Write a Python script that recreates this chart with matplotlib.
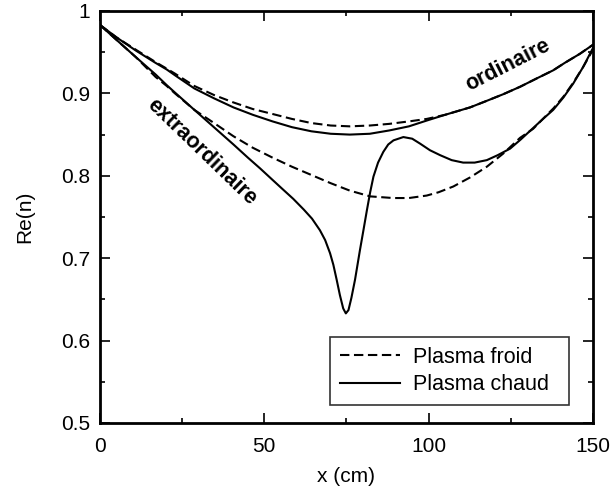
import numpy as np
import matplotlib
matplotlib.use("Agg")
from matplotlib import pyplot as plt

# %% Data --------------------------------------------------------------------------------------------------------------
# mode ordinaire, plasma froid (dashed) / plasma chaud (solid)
x_ord_froid = [0, 5, 10.9, 16.9, 20.3, 22.8, 28.7, 34.7, 40.6, 46.5, 52.5, 58.4, 64.3, 70.2, 76, 82.1, 88, 94, 99.4,
               105, 112.6, 117.7, 122.7, 127.8, 132.8, 137.9, 141.4, 146, 150]
y_ord_froid = [0.983, 0.968, 0.953, 0.938, 0.930, 0.924, 0.909, 0.898, 0.889, 0.881, 0.875, 0.869, 0.864, 0.861,
               0.860, 0.861, 0.863, 0.866, 0.869, 0.874, 0.883, 0.891, 0.899, 0.908, 0.918, 0.928, 0.937, 0.948,
               0.959]

x_ord_chaud = [0, 5, 10.9, 16.9, 20.3, 22.8, 28.7, 34.7, 40.6, 46.5, 52.5, 58.4, 64.3, 70.2, 76, 82.1, 88, 94, 99.4,
               105, 112.6, 117.7, 122.7, 127.8, 132.8, 137.9, 141.4, 146, 150]
y_ord_chaud = [0.983, 0.968, 0.952, 0.937, 0.929, 0.922, 0.906, 0.894, 0.883, 0.874, 0.866, 0.859, 0.854, 0.851,
               0.850, 0.851, 0.855, 0.860, 0.867, 0.874, 0.883, 0.891, 0.899, 0.908, 0.918, 0.928, 0.937, 0.948,
               0.959]

# mode extraordinaire
x_ext_froid = [0, 5, 10.9, 16.9, 20.3, 22.8, 28.7, 34.7, 40.6, 46.5, 52.5, 58.4, 64.3, 70.2, 76, 82.2, 89.2, 94,
               99.4, 103, 107.5, 112.6, 117.7, 122.7, 127.8, 131.8, 135, 138, 141, 144, 147, 150]
y_ext_froid = [0.983, 0.965, 0.944, 0.920, 0.909, 0.900, 0.880, 0.864, 0.848, 0.834, 0.822, 0.811, 0.801, 0.791,
               0.782, 0.775, 0.773, 0.773, 0.776, 0.780, 0.787, 0.798, 0.811, 0.827, 0.846, 0.857, 0.870, 0.882,
               0.896, 0.913, 0.932, 0.953]

x_ext_chaud = [0, 5, 10.9, 16.9, 20.3, 22.8, 28.7, 35.5, 40.6, 45, 48.7, 52.5, 55.5, 58.8, 62, 64.5, 66.9, 68.5, 70,
               71, 72, 73, 74, 74.8, 75.6, 76.5, 77.6, 79.1, 80.2, 81.2, 82.2, 83.2, 84.6, 86.2, 87.7, 89.3, 92.3,
               95, 97.4, 100.4, 103.5, 107, 110.5, 114, 117.7, 121, 124.8, 128, 131.8, 134.8, 137.9, 141, 144, 147,
               150]
y_ext_chaud = [0.983, 0.965, 0.944, 0.923, 0.910, 0.901, 0.880, 0.856, 0.838, 0.822, 0.809, 0.795, 0.784, 0.772,
               0.759, 0.748, 0.734, 0.722, 0.706, 0.692, 0.674, 0.655, 0.639, 0.633, 0.637, 0.652, 0.674, 0.710,
               0.735, 0.758, 0.780, 0.799, 0.816, 0.829, 0.838, 0.843, 0.847, 0.845, 0.839, 0.831, 0.825, 0.819,
               0.816, 0.816, 0.819, 0.825, 0.833, 0.844, 0.858, 0.869, 0.880, 0.895, 0.912, 0.932, 0.955]

x_ticks = [0, 50, 100, 150]
y_ticks = [0.5, 0.6, 0.7, 0.8, 0.9, 1]
y_tick_labels = ["0.5", "0.6", "0.7", "0.8", "0.9", "1"]

# %% Plot --------------------------------------------------------------------------------------------------------------
plt.rcParams["font.family"] = ["Liberation Sans", "DejaVu Sans"]

fig = plt.figure(figsize=(6.11, 4.95), dpi=100)
ax = fig.add_axes([0.1637, 0.1455, 0.8068, 0.8323])

dash = (0, (4.5, 2.2))
ax.plot(x_ord_froid, y_ord_froid, color="black", lw=1.5, linestyle=dash, label="Plasma froid")
ax.plot(x_ord_chaud, y_ord_chaud, color="black", lw=1.5, label="Plasma chaud")
ax.plot(x_ext_froid, y_ext_froid, color="black", lw=1.5, linestyle=dash)
ax.plot(x_ext_chaud, y_ext_chaud, color="black", lw=1.5)

ax.set_xlim(0, 150)
ax.set_ylim(0.5, 1)
ax.set_xticks(x_ticks)
ax.set_xticks([25, 75, 125], minor=True)
ax.set_yticks(y_ticks)
ax.set_yticklabels(y_tick_labels)
ax.set_yticks(np.arange(0.55, 1.0, 0.1), minor=True)
ax.tick_params(which="both", direction="in", top=True, right=True, labelsize=15, width=1.2)
ax.tick_params(which="major", length=7)
ax.tick_params(which="minor", length=3.5)
ax.tick_params(axis="x", which="major", pad=10)
ax.tick_params(axis="y", which="major", pad=7)
for s in ax.spines.values():
    s.set_linewidth(2)

ax.set_xlabel("x (cm)", fontsize=15)
ax.xaxis.set_label_coords(0.5, -0.108)
ax.set_ylabel("Re(n)", fontsize=15)
ax.yaxis.set_label_coords(-0.134, 0.5)

ax.text(31.0, 0.829, "extraordinaire", rotation=-44, fontsize=15.5, fontweight="bold",
        ha="center", va="center", rotation_mode="anchor")
ax.text(124.1, 0.934, "ordinaire", rotation=27, fontsize=15.5, fontweight="bold",
        ha="center", va="center", rotation_mode="anchor")

leg = ax.legend(loc="lower left", bbox_to_anchor=(0.4665, 0.0437, 0.485, 0.18), mode="expand",
                fontsize=15.5, frameon=True, fancybox=False, handlelength=2.8, borderaxespad=0,
                labelspacing=0.3, handletextpad=0.6, borderpad=0.45)
leg.get_frame().set_edgecolor("black")
leg.get_frame().set_linewidth(1.2)

fig.savefig("out.png", dpi=100)
